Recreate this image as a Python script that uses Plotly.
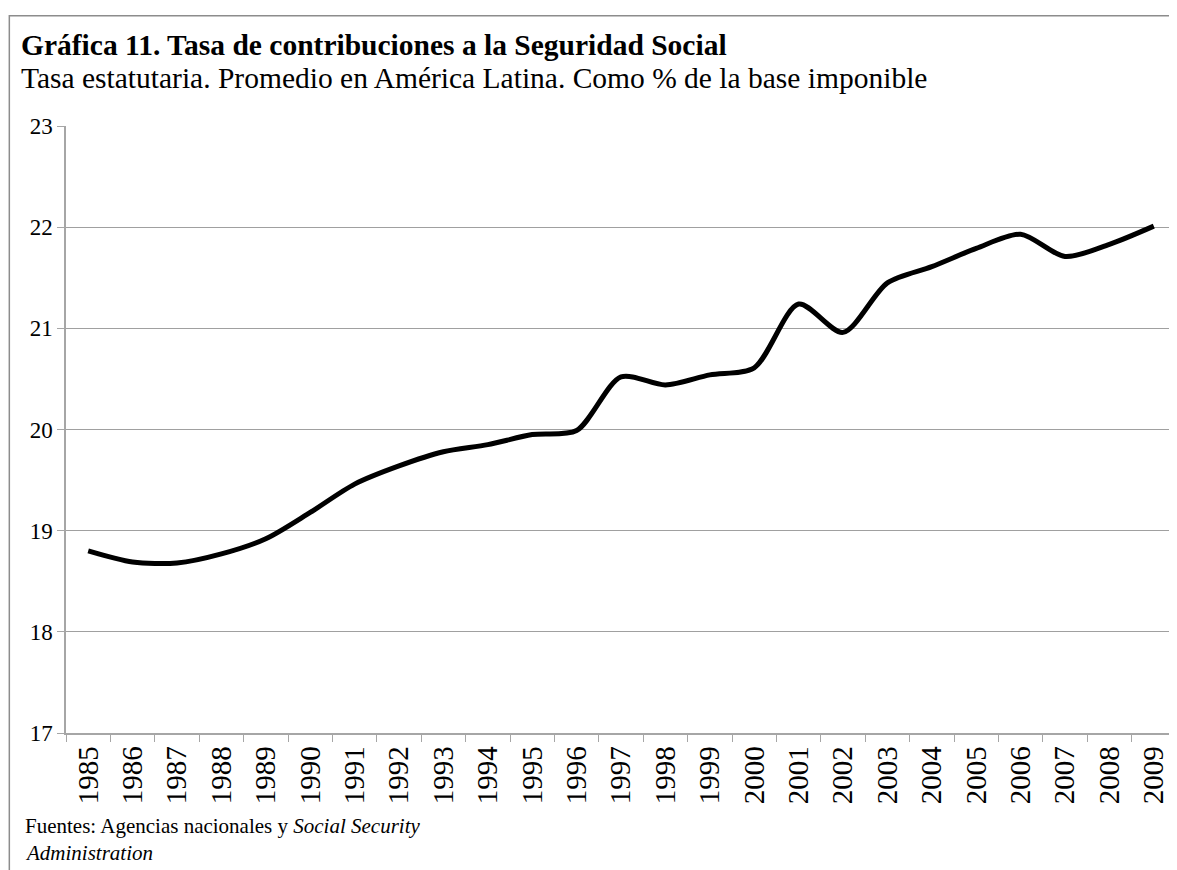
import plotly.graph_objects as go

# Chart data
years = [str(y) for y in range(1985, 2010)]
tasa = [18.80, 18.69, 18.68, 18.77, 18.92, 19.18, 19.46, 19.64, 19.78, 19.85,
        19.95, 19.99, 20.52, 20.44, 20.54, 20.61, 21.24, 20.96, 21.45, 21.61,
        21.79, 21.93, 21.71, 21.83, 22.01]

title = "<b>Gráfica 11. Tasa de contribuciones a la Seguridad Social</b>"
subtitle = "Tasa estatutaria. Promedio en América Latina. Como % de la base imponible"
source_1 = "Fuentes: Agencias nacionales y <i>Social Security</i>"
source_2 = "<i>Administration</i>"

FONT = "Liberation Serif, Times New Roman, serif"
OFF = 8  # the page body has an 8px margin, so the figure sits 8px in
W, H = 1177 - OFF, 870 - OFF
# plot area in page pixels: x 65.5..1176, y 125.5..733.5
M_L = 65.5 - OFF
M_R = W - (1176 - OFF)
M_T = 125.5 - OFF
M_B = H - (733.5 - OFF)
PW = W - M_L - M_R
PH = H - M_T - M_B


def px_x(px):
    # page pixel -> paper x
    return (px - OFF - M_L) / PW


def px_y(py):
    # page pixel -> paper y
    return (H - M_B - (py - OFF)) / PH


fig = go.Figure()
fig.add_trace(go.Scatter(
    x=years,
    y=tasa,
    mode='lines',
    line=dict(color='black', width=5, shape='spline', smoothing=0.8),
    showlegend=False,
))

fig.update_layout(
    width=W, height=H,
    margin=dict(l=M_L, r=M_R, t=M_T, b=M_B, pad=0),
    paper_bgcolor='white',
    plot_bgcolor='white',
    font=dict(family=FONT, color='black'),
    xaxis=dict(
        type='category',
        range=[-0.5, len(years) - 0.5],
        tickson='boundaries',
        ticks='outside', ticklen=7, tickcolor='#a6a6a6',
        showline=True, linecolor='#a6a6a6', linewidth=1.5,
        showgrid=False,
        tickangle=-90,
        tickfont=dict(size=29, family=FONT),
    ),
    yaxis=dict(
        range=[17, 23],
        dtick=1,
        ticks='outside', ticklen=7, tickcolor='#a6a6a6',
        showline=True, linecolor='#a6a6a6', linewidth=1.5,
        gridcolor='#a0a0a0', gridwidth=1,
        zeroline=False,
        tickfont=dict(size=23, family=FONT),
    ),
)

# outer frame (cropped on the right and bottom)
fig.add_shape(type='rect', xref='paper', yref='paper',
              x0=px_x(8.8), x1=px_x(1400), y0=px_y(1100), y1=px_y(15),
              line=dict(color='#8c8c8c', width=1.5), fillcolor='rgba(0,0,0,0)',
              layer='below')

fig.add_annotation(text=title, xref='paper', yref='paper', x=px_x(18), y=px_y(44),
                   xanchor='left', yanchor='middle', showarrow=False,
                   font=dict(size=29.5, family=FONT))
fig.add_annotation(text=subtitle, xref='paper', yref='paper', x=px_x(18), y=px_y(77),
                   xanchor='left', yanchor='middle', showarrow=False,
                   font=dict(size=29.5, family=FONT))
fig.add_annotation(text=source_1, xref='paper', yref='paper', x=px_x(22), y=px_y(827),
                   xanchor='left', yanchor='middle', showarrow=False,
                   font=dict(size=21, family=FONT))
fig.add_annotation(text=source_2, xref='paper', yref='paper', x=px_x(22), y=px_y(854),
                   xanchor='left', yanchor='middle', showarrow=False,
                   font=dict(size=21, family=FONT))

fig.write_html("out.html")
